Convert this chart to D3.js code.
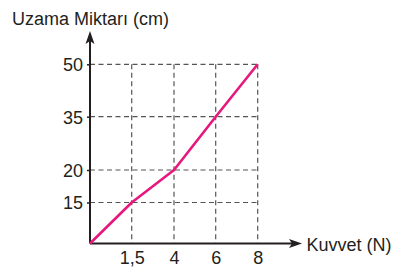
<!DOCTYPE html>
<html>
<head>
<meta charset="utf-8">
<script src="https://cdn.jsdelivr.net/npm/d3@7"></script>
<style>
  body { margin: 0; background: #fff; }
  svg text { font-family: "Liberation Sans", Arial, sans-serif; fill: #231f20; }
</style>
</head>
<body>
<svg id="chart" width="402" height="271"></svg>
<script>
// values
var forceTicks = [1.5, 4, 6, 8];
var forceLabels = ["1,5", "4", "6", "8"];
var stretchTicks = [15, 20, 35, 50];
var force = [0, 1.5, 4, 6, 8];
var stretch = [0, 15, 20, 35, 50];

var svg = d3.select("#chart");

// the axes are schematic, each tick is placed on its own, so piecewise scales
var xScale = d3.scaleLinear()
              .domain([0, 1.5, 4, 6, 8])
              .range([90, 131.7, 174, 215.7, 257.7]);
var yScale = d3.scaleLinear()
              .domain([0, 15, 20, 35, 50])
              .range([243.5, 202.5, 170, 116.7, 64.3]);

var x0 = xScale(0), y0 = yScale(0);

// dashed guide lines
var grid = svg.append("g")
              .attr("stroke", "#555")
              .attr("stroke-width", 1.2)
              .attr("stroke-dasharray", "5,3.5");

grid.selectAll("line.h")
    .data(stretchTicks)
    .enter().append("line")
    .attr("x1", x0).attr("x2", xScale(8))
    .attr("y1", function(d) { return yScale(d); })
    .attr("y2", function(d) { return yScale(d); });

grid.selectAll("line.v")
    .data(forceTicks)
    .enter().append("line")
    .attr("x1", function(d) { return xScale(d); })
    .attr("x2", function(d) { return xScale(d); })
    .attr("y1", yScale(50)).attr("y2", y0);

// axes
var yAxis = d3.axisLeft(yScale)
              .tickValues(stretchTicks)
              .tickSize(3)
              .tickPadding(4);
var xAxis = d3.axisBottom(xScale)
              .tickValues(forceTicks)
              .tickSize(0)
              .tickPadding(8)
              .tickFormat(function(d, i) { return forceLabels[i]; });

var gy = svg.append("g").attr("transform", "translate(" + x0 + ",0)").call(yAxis);
var gx = svg.append("g").attr("transform", "translate(0," + y0 + ")").call(xAxis);

[gx, gy].forEach(function(g) {
  g.select(".domain").remove();
  g.selectAll("line").attr("stroke", "#231f20").attr("stroke-width", 1.5);
  g.selectAll("text").attr("font-size", 18).attr("fill", "#231f20")
   .style("font-family", "'Liberation Sans', Arial, sans-serif");
});
gy.selectAll("text").attr("dy", "0.36em");

// axis lines with arrow heads
svg.append("line")
   .attr("x1", x0).attr("y1", y0)
   .attr("x2", x0).attr("y2", 40)
   .attr("stroke", "#231f20").attr("stroke-width", 2);
svg.append("path")
   .attr("d", "M" + x0 + ",31 L" + (x0 - 4.5) + ",44 L" + x0 + ",41 L" + (x0 + 4.5) + ",44 Z")
   .attr("fill", "#231f20");

svg.append("line")
   .attr("x1", x0).attr("y1", y0)
   .attr("x2", 293).attr("y2", y0)
   .attr("stroke", "#231f20").attr("stroke-width", 2);
svg.append("path")
   .attr("d", "M302," + y0 + " L289," + (y0 - 4.5) + " L292," + y0 + " L289," + (y0 + 4.5) + " Z")
   .attr("fill", "#231f20");

// axis titles
svg.append("text")
   .attr("x", 12).attr("y", 24.5)
   .attr("font-size", 18)
   .text("Uzama Miktarı (cm)");
svg.append("text")
   .attr("x", 306.5).attr("y", 251)
   .attr("font-size", 18)
   .text("Kuvvet (N)");

// the data line
var line = d3.line()
             .x(function(d) { return xScale(d[0]); })
             .y(function(d) { return yScale(d[1]); });

svg.append("path")
   .datum(d3.zip(force, stretch))
   .attr("d", line)
   .attr("fill", "none")
   .attr("stroke", "#e8177d")
   .attr("stroke-width", 2.6)
   .attr("stroke-linejoin", "round");
</script>
</body>
</html>
